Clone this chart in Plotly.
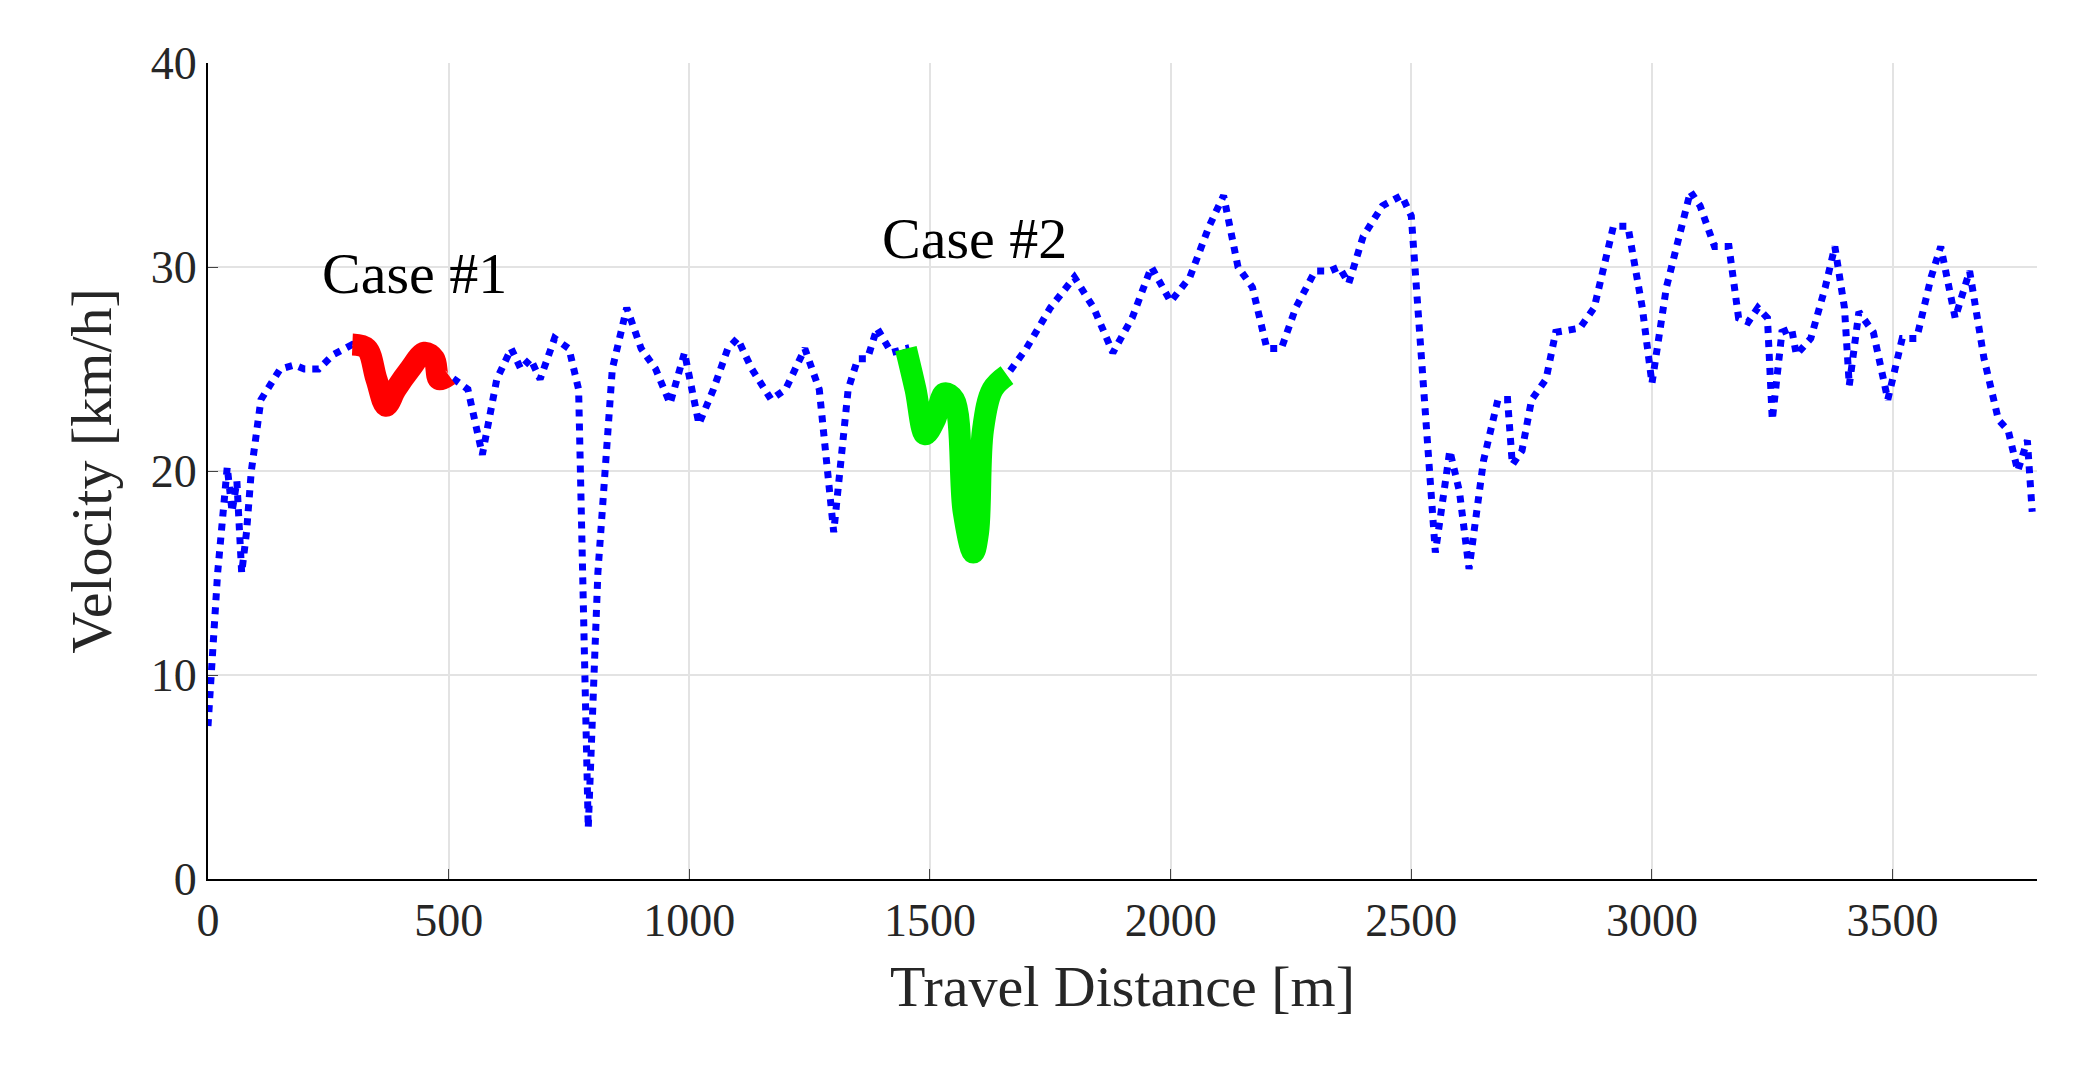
import plotly.graph_objects as go

blue_x = [0,20,40,50,60,70,80,90,110,150,180,200,230,260,300,330,350,370,390,420,450,470,480,500,540,570,600,630,650,670,690,720,750,770,790,810,840,870,900,930,960,990,1020,1050,1080,1100,1130,1170,1200,1240,1270,1300,1330,1350,1370,1390,1420,1450,1470,1490,1510,1530,1550,1570,1590,1600,1610,1630,1660,1700,1750,1800,1840,1880,1920,1960,2000,2040,2080,2110,2140,2170,2200,2230,2260,2300,2330,2350,2370,2400,2440,2480,2500,2530,2550,2580,2600,2620,2650,2680,2700,2710,2730,2750,2780,2800,2850,2880,2920,2950,2980,3000,3030,3080,3100,3130,3160,3180,3200,3220,3240,3250,3270,3290,3300,3330,3360,3380,3400,3410,3430,3460,3490,3520,3550,3580,3600,3630,3660,3690,3720,3740,3760,3780,3790]
blue_y = [7.5,15,20.2,18,19.5,15,17,20,23.5,25,25.2,25,25,25.7,26.2,26,24.5,23.2,24,25,25.8,25.5,24.5,24.7,24,20.8,24.5,26,25,25.5,24.5,26.5,26,24,2.5,15,25,28,26,25,23.3,25.8,22.3,24,26,26.5,25,23.5,24,26,24,17,24,25.5,25.5,27,25.8,26,24,21.8,22.5,23.8,23.5,18,16,17,22,24,24.7,26,28,29.5,28,25.8,27.5,30,28.3,29.5,32,33.5,30,29,26,26,28,29.8,29.8,30,29.2,31.5,33,33.5,32.5,22,16,21,19,15.2,20.5,23.5,23.5,20.3,21,23.5,24.5,26.8,27,28,32,32,28,24.3,29,33.7,33,31,31,27.5,27.3,28,27.5,22.5,26.8,27,25.7,26.5,29,31,28,24.2,27.8,26.8,23.5,26.5,26.5,29.5,31,27.5,29.8,25.5,22.5,22,20,21.5,18]

case1_x = [300,330,350,370,390,420,450,470,480,500]
case1_y = [26.2,26,24.5,23.2,24,25,25.8,25.5,24.5,24.7]
case2_x = [1450,1470,1490,1510,1530,1550,1570,1590,1600,1610,1630,1660]
case2_y = [26,24,21.8,22.5,23.8,23.5,18,16,17,22,24,24.7]

x_ticks = [0,500,1000,1500,2000,2500,3000,3500]
y_ticks = [0,10,20,30,40]

fig = go.Figure()
fig.add_trace(go.Scatter(x=blue_x, y=blue_y, mode="lines",
                         line=dict(color="#0000ff", width=7, dash="dot")))
fig.add_trace(go.Scatter(x=case1_x, y=case1_y, mode="lines",
                         line=dict(color="#ff0000", width=22, shape="spline")))
fig.add_trace(go.Scatter(x=case2_x, y=case2_y, mode="lines",
                         line=dict(color="#00ee00", width=22, shape="spline")))

font = "Liberation Serif"
fig.add_annotation(x=430, y=29.7, text="Case #1", showarrow=False,
                   font=dict(family=font, size=58, color="black"))
fig.add_annotation(x=1592, y=31.4, text="Case #2", showarrow=False,
                   font=dict(family=font, size=58, color="black"))

fig.update_layout(
    width=2091, height=1080, showlegend=False,
    plot_bgcolor="white", paper_bgcolor="white",
    margin=dict(l=200, r=62, t=55, b=209),
    font=dict(family=font, size=46, color="#262626"),
)
fig.update_xaxes(range=[0, 3800], tickvals=x_ticks, showgrid=True,
                 gridcolor="#e3e3e3", gridwidth=2, showline=True, linecolor="black",
                 linewidth=2, ticks="inside", ticklen=10, zeroline=False,
                 tickfont=dict(size=46),
                 title=dict(text="Travel Distance [m]", font=dict(size=58), standoff=20))
fig.update_yaxes(range=[0, 40], tickvals=y_ticks, showgrid=True,
                 gridcolor="#e3e3e3", gridwidth=2, showline=True, linecolor="black",
                 linewidth=2, ticks="inside", ticklen=10, zeroline=False,
                 tickfont=dict(size=46),
                 title=dict(text="Velocity [km/h]", font=dict(size=58), standoff=20))

fig.write_html("out.html")
